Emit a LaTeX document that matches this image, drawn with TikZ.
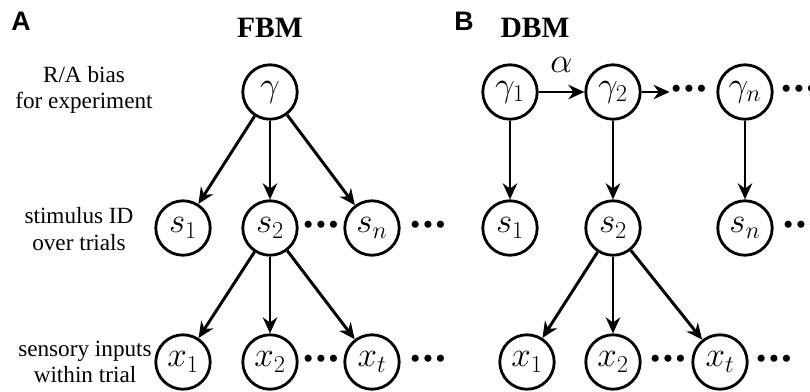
\documentclass[tikz,border=0pt]{standalone}
\usepackage{amsmath,amssymb}
\usepackage{fontspec}
\setmainfont{Liberation Serif}
\newfontfamily\tagfont{Liberation Sans}
\usetikzlibrary{arrows.meta,positioning}
\tikzset{
  >={Stealth[length=4mm,width=3.6mm,inset=1.3mm]},
  rv/.style={circle,draw=black,line width=2pt,minimum size=13.6mm,
    inner sep=0pt,font=\fontsize{26}{28}\selectfont},
  dep/.style={->,line width=2.1pt},
  moredots/.style={inner sep=1pt,font=\fontsize{21}{24}\selectfont},
  rowlbl/.style={align=center,font=\fontsize{16.5}{19}\selectfont},
  paneltag/.style={font=\tagfont\bfseries\fontsize{19}{22}\selectfont},
  modelname/.style={font=\bfseries\fontsize{21}{24}\selectfont},
  parlbl/.style={font=\fontsize{26}{28}\selectfont,inner sep=0pt},
}
\newcommand{\moredotsym}{\textbullet\hspace{1.6pt}\textbullet\hspace{1.6pt}\textbullet}
\begin{document}
\begin{tikzpicture}[x=0.025cm,y=-0.025cm]
  \useasboundingbox (0,0) rectangle (810,391);
  % panel A: fixed bias
  \node[paneltag] (tagA) at (21,21) {A};
  \node[modelname] (fbm) at (270,28) {FBM};
  \node[rv] (g) at (270,92) {$\gamma$};
  \node[rv] (s1) at (183,228) {$s_1$};
  \node[rv] (s2) at (270,228) {$s_2$};
  \node[rv] (sn) at (372,228) {$s_n$};
  \node[rv] (x1) at (183,362) {$x_1$};
  \node[rv] (x2) at (270,362) {$x_2$};
  \node[rv] (xt) at (372,362) {$x_t$};
  \node[moredots] (sdA) at (321,228) {\moredotsym};
  \node[moredots] (seA) at (428,228) {\moredotsym};
  \node[moredots] (xdA) at (321,362) {\moredotsym};
  \node[moredots] (xeA) at (428,362) {\moredotsym};
  \draw[dep] (g) -- (s1);
  \draw[dep] (g) -- (s2);
  \draw[dep] (g) -- (sn);
  \draw[dep] (s2) -- (x1);
  \draw[dep] (s2) -- (x2);
  \draw[dep] (s2) -- (xt);
  \node[rowlbl] (lblg) at (84,90) {R/A bias\\for experiment};
  \node[rowlbl] (lbls) at (79,229) {stimulus ID\\over trials};
  \node[rowlbl] (lblx) at (85,362) {sensory inputs\\within trial};
  % panel B: dynamic bias
  \node[paneltag] (tagB) at (464,21) {B};
  \node[modelname] (dbm) at (535,28) {DBM};
  \node[rv] (g1) at (510,92) {$\gamma_1$};
  \node[rv] (g2) at (613,92) {$\gamma_2$};
  \node[rv] (gn) at (745,92) {$\gamma_n$};
  \node[moredots] (gdB) at (689,92) {\moredotsym};
  \node[moredots] (geB) at (799,92) {\moredotsym};
  \node[rv] (t1) at (510,228) {$s_1$};
  \node[rv] (t2) at (613,228) {$s_2$};
  \node[rv] (tn) at (745,228) {$s_n$};
  \node[moredots] (teB) at (801,228) {\moredotsym};
  \node[rv] (y1) at (527,362) {$x_1$};
  \node[rv] (y2) at (613,362) {$x_2$};
  \node[rv] (yt) at (720,362) {$x_t$};
  \node[moredots] (ydB) at (668,362) {\moredotsym};
  \node[moredots] (yeB) at (774,362) {\moredotsym};
  \draw[dep] (g1) -- node[parlbl,above=13pt] {$\alpha$} (g2);
  \draw[dep] (g2) -- (gdB);
  \draw[dep] (g1) -- (t1);
  \draw[dep] (g2) -- (t2);
  \draw[dep] (gn) -- (tn);
  \draw[dep] (t2) -- (y1);
  \draw[dep] (t2) -- (y2);
  \draw[dep] (t2) -- (yt);
\end{tikzpicture}
\end{document}
